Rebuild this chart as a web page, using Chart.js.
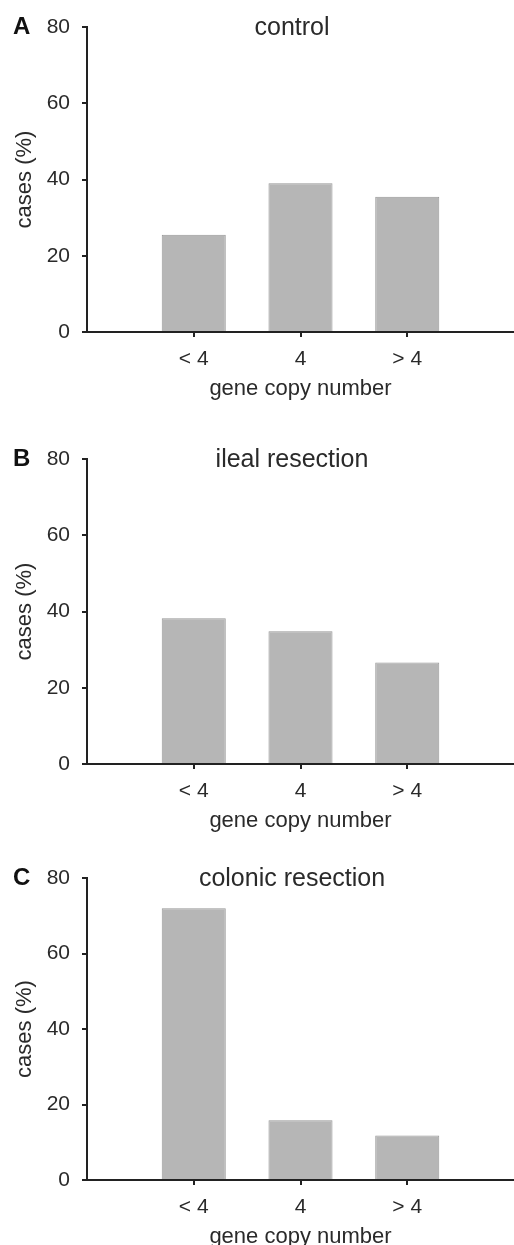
<!DOCTYPE html>
<html>
<head>
<meta charset="utf-8">
<script src="https://cdn.jsdelivr.net/npm/chart.js@4.4.1/dist/chart.umd.min.js"></script>
<style>
  html, body { margin: 0; padding: 0; background: #fff; overflow: hidden; }
  .panel { position: absolute; left: 0; width: 514px; height: 415px; }
</style>
</head>
<body>
<div class="panel" style="top:0px"><canvas id="panelA" width="514" height="415"></canvas></div>
<div class="panel" style="top:432px"><canvas id="panelB" width="514" height="415"></canvas></div>
<div class="panel" style="top:851px"><canvas id="panelC" width="514" height="415"></canvas></div>
<script>
// gene copy number categories
const categories = ['< 4', '4', '> 4'];
const yTicks = [0, 20, 40, 60, 80];

// cases (%) per group
const controlValues = [25.5, 39, 35.5];
const ilealValues = [38.2, 34.8, 26.6];
const colonicValues = [72, 15.8, 11.8];

const panelLetters = ['A', 'B', 'C'];
const panelTitles = ['control', 'ileal resection', 'colonic resection'];

const fontFamily = '"Liberation Sans", Arial, Helvetica, sans-serif';
const axisColor = '#222';
const textColor = '#2a2a2a';

Chart.defaults.font.family = fontFamily;
Chart.defaults.color = textColor;

const panelLabels = {
    id: 'panelLabels',
    afterDraw(chart, args, opts) {
        const ctx = chart.ctx;
        const top = chart.chartArea.top;
        ctx.save();
        ctx.textBaseline = 'middle';
        ctx.fillStyle = '#111';
        ctx.textAlign = 'left';
        ctx.font = 'bold 24px ' + fontFamily;
        ctx.fillText(opts.letter, 13, top);
        ctx.fillStyle = textColor;
        ctx.textAlign = 'center';
        ctx.font = '25px ' + fontFamily;
        ctx.fillText(opts.title, 292, top + 1);
        ctx.restore();
    }
};

function makePanel(id, values, letter, title, bottomPad) {
    const ctx = document.getElementById(id).getContext('2d');
    return new Chart(ctx, {
        type: 'bar',
        data: {
            datasets: [{
                data: values.map((v, i) => ({ x: i + 1, y: v })),
                backgroundColor: '#b6b6b6',
                borderColor: '#979797',
                borderWidth: 1,
                barPercentage: 0.6,
                categoryPercentage: 1
            }]
        },
        options: {
            responsive: false,
            animation: false,
            layout: { padding: { top: 27, right: 0, bottom: bottomPad, left: 0 } },
            plugins: {
                legend: { display: false },
                tooltip: { enabled: false },
                panelLabels: { letter: letter, title: title }
            },
            scales: {
                x: {
                    type: 'linear',
                    offset: false,
                    min: 0,
                    max: categories.length + 1,
                    afterBuildTicks: s => { s.ticks = categories.map((c, i) => ({ value: i + 1 })); },
                    afterFit: s => { s.height = 70; },
                    border: { display: true, color: axisColor, width: 2 },
                    grid: { offset: false, drawOnChartArea: false, drawTicks: true, tickLength: 5, color: axisColor, lineWidth: 2 },
                    ticks: {
                        padding: 10,
                        font: { size: 21 },
                        color: textColor,
                        callback: v => categories[v - 1]
                    },
                    title: {
                        display: true,
                        text: 'gene copy number',
                        font: { size: 22 },
                        color: textColor,
                        padding: { top: 0, bottom: 0 }
                    }
                },
                y: {
                    min: 0,
                    max: 80,
                    afterBuildTicks: s => { s.ticks = yTicks.map(v => ({ value: v })); },
                    afterFit: s => { s.width = 87; },
                    border: { display: true, color: axisColor, width: 2 },
                    grid: { drawOnChartArea: false, drawTicks: true, tickLength: 5, color: axisColor, lineWidth: 2 },
                    ticks: { padding: 12, font: { size: 21 }, color: textColor },
                    title: {
                        display: true,
                        text: 'cases (%)',
                        font: { size: 22 },
                        color: textColor,
                        padding: { top: 12, bottom: 0 }
                    }
                }
            }
        },
        plugins: [panelLabels]
    });
}

makePanel('panelA', controlValues, panelLetters[0], panelTitles[0], 13);
makePanel('panelB', ilealValues, panelLetters[1], panelTitles[1], 13);
makePanel('panelC', colonicValues, panelLetters[2], panelTitles[2], 16);
</script>
</body>
</html>
